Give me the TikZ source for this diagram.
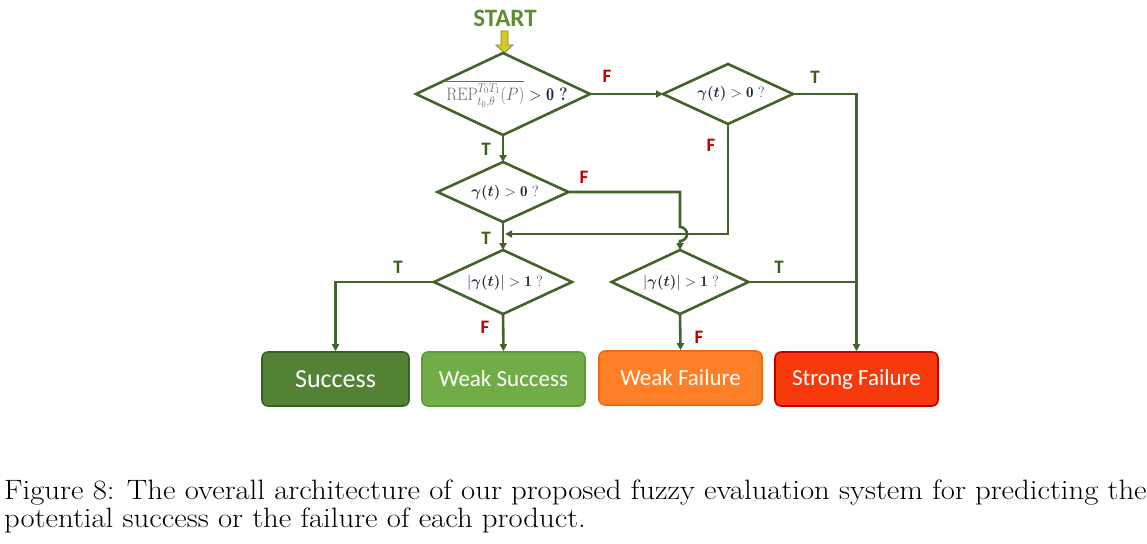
\RequirePackage{fix-cm}
\documentclass[tikz,border=0pt]{standalone}
\usepackage{amsmath,bm}
\usepackage{fontspec}
\newfontfamily\carl{Carlito}
\usetikzlibrary{shapes.geometric,arrows.meta}
\definecolor{lineg}{HTML}{43632A}
\definecolor{tcol}{HTML}{3E5F1E}
\definecolor{fcol}{HTML}{C00000}
\definecolor{succ}{HTML}{548235}
\definecolor{succb}{HTML}{3B5E24}
\definecolor{wsucc}{HTML}{70AD47}
\definecolor{wsuccb}{HTML}{5E9A3A}
\definecolor{wfail}{HTML}{FF7F27}
\definecolor{wfailb}{HTML}{F26A10}
\definecolor{sfail}{HTML}{F5390A}
\definecolor{sfailb}{HTML}{C00000}
\definecolor{startc}{HTML}{5E8C31}
\definecolor{arrowy}{HTML}{D6C925}
\definecolor{navy}{HTML}{1F2A44}
\tikzset{
  dia/.style={diamond, draw=lineg, line width=2.6pt, inner sep=0pt, outer sep=0pt, fill=white},
  conn/.style={draw=lineg, line width=2.6pt},
  arr/.style={conn, -{Triangle[length=7pt,width=7pt]}},
  tlab/.style={font=\carl\bfseries\fontsize{19}{20}\selectfont, text=tcol},
  flab/.style={font=\carl\bfseries\fontsize{19}{20}\selectfont, text=fcol},
  mtxt/.style={font=\fontsize{15}{18}\selectfont, inner sep=0pt, text=navy},
  res/.style={rounded corners=6pt, minimum height=54pt, line width=1.6pt, text=white,
              font=\carl\fontsize{23}{25}\selectfont},
  capt/.style={anchor=base west, inner sep=0pt, font=\fontsize{28}{28}\selectfont}
}
\begin{document}
\begin{tikzpicture}[x=1pt,y=-1pt]
\useasboundingbox (0,0) rectangle (1147,543);
% start
\node[font=\carl\bfseries\fontsize{25}{26}\selectfont, text=startc] (start) at (505,18) {START};
\filldraw[fill=arrowy, draw=lineg!70!yellow, line width=0.8pt]
  (501,31) -- (508,31) -- (508,45) -- (513,45) -- (504.5,53) -- (496,45) -- (501,45) -- cycle;
% diamonds
\node[dia, minimum width=174pt, minimum height=82pt] (d1) at (503,94) {};
\node[dia, minimum width=130pt, minimum height=60pt] (d2) at (728,94) {};
\node[dia, minimum width=131pt, minimum height=60pt] (d3) at (503,192) {};
\node[dia, minimum width=138pt, minimum height=64pt] (d4) at (503,282) {};
\node[dia, minimum width=137pt, minimum height=64pt] (d5) at (680,282) {};
\node[mtxt] (t1) at (507,94) {\scalebox{0.9}[1]{\fontsize{18}{21}\selectfont{\color{black!60}$\overline{\mathrm{REP}^{T_0T_1}_{t_0,\theta}(P)}$} $> \mathbf{0}$ \textbf{?}}};
\node[mtxt] (t2) at (731,94) {$\bm{\gamma(t)} > \mathbf{0}$ ?};
\node[mtxt] (t3) at (505,193) {$\bm{\gamma(t)} > \mathbf{0}$ ?};
\node[mtxt] (t4) at (505,283) {$|\bm{\gamma(t)}| > \mathbf{1}$ ?};
\node[mtxt] (t5) at (681,283) {$|\bm{\gamma(t)}| > \mathbf{1}$ ?};
% result boxes
\node[res, fill=succ, draw=succb, minimum width=147pt, font=\carl\fontsize{26}{28}\selectfont] (s) at (335.5,379) {Success};
\node[res, fill=wsucc, draw=wsuccb, minimum width=163pt] (ws) at (503.5,379) {Weak Success};
\node[res, fill=wfail, draw=wfailb, minimum width=163pt] (wf) at (680.5,378) {Weak Failure};
\node[res, fill=sfail, draw=sfailb, minimum width=163pt] (sf) at (856.5,379) {Strong Failure};
% connectors
\coordinate (m1) at (505,234);
\coordinate (hopA) at (680,227);
\draw[arr] (d1.east) -- (d2.west);
\draw[arr] (d2.east) -| (sf.north);
\draw[arr] (d2.south) |- (m1);
\draw[arr] (d1.south) -- (d3.north);
\draw[arr] (d3.south) -- (d4.north);
\draw[arr] (d3.east) -| (hopA) arc[start angle=90, end angle=-90, radius=7pt] -- (d5.north);
\draw[arr] (d4.west) -| (s.north);
\draw[arr] (d4.south) -- (ws.north);
\draw[conn] (d5.east) -- (d5.east -| sf.north);
\draw[arr] (d5.south) -- (wf.north);
% labels
\node[flab] (l1) at (607,76) {F};
\node[tlab] (l2) at (815,77) {T};
\node[flab] (l3) at (711,145) {F};
\node[tlab] (l4) at (486,149) {T};
\node[flab] (l5) at (584,177) {F};
\node[tlab] (l6) at (486,238) {T};
\node[tlab] (l7) at (398,267) {T};
\node[flab] (l8) at (485,327) {F};
\node[tlab] (l9) at (779,267) {T};
\node[flab] (l10) at (699,337) {F};
% caption
\node[capt] (cap1) at (4,499) {\scalebox{1.097}[1]{Figure 8: The overall architecture of our proposed fuzzy evaluation system for predicting the}};
\node[capt] (cap2) at (4,527) {\scalebox{1.097}[1]{potential success or the failure of each product.}};
\end{tikzpicture}
\end{document}
